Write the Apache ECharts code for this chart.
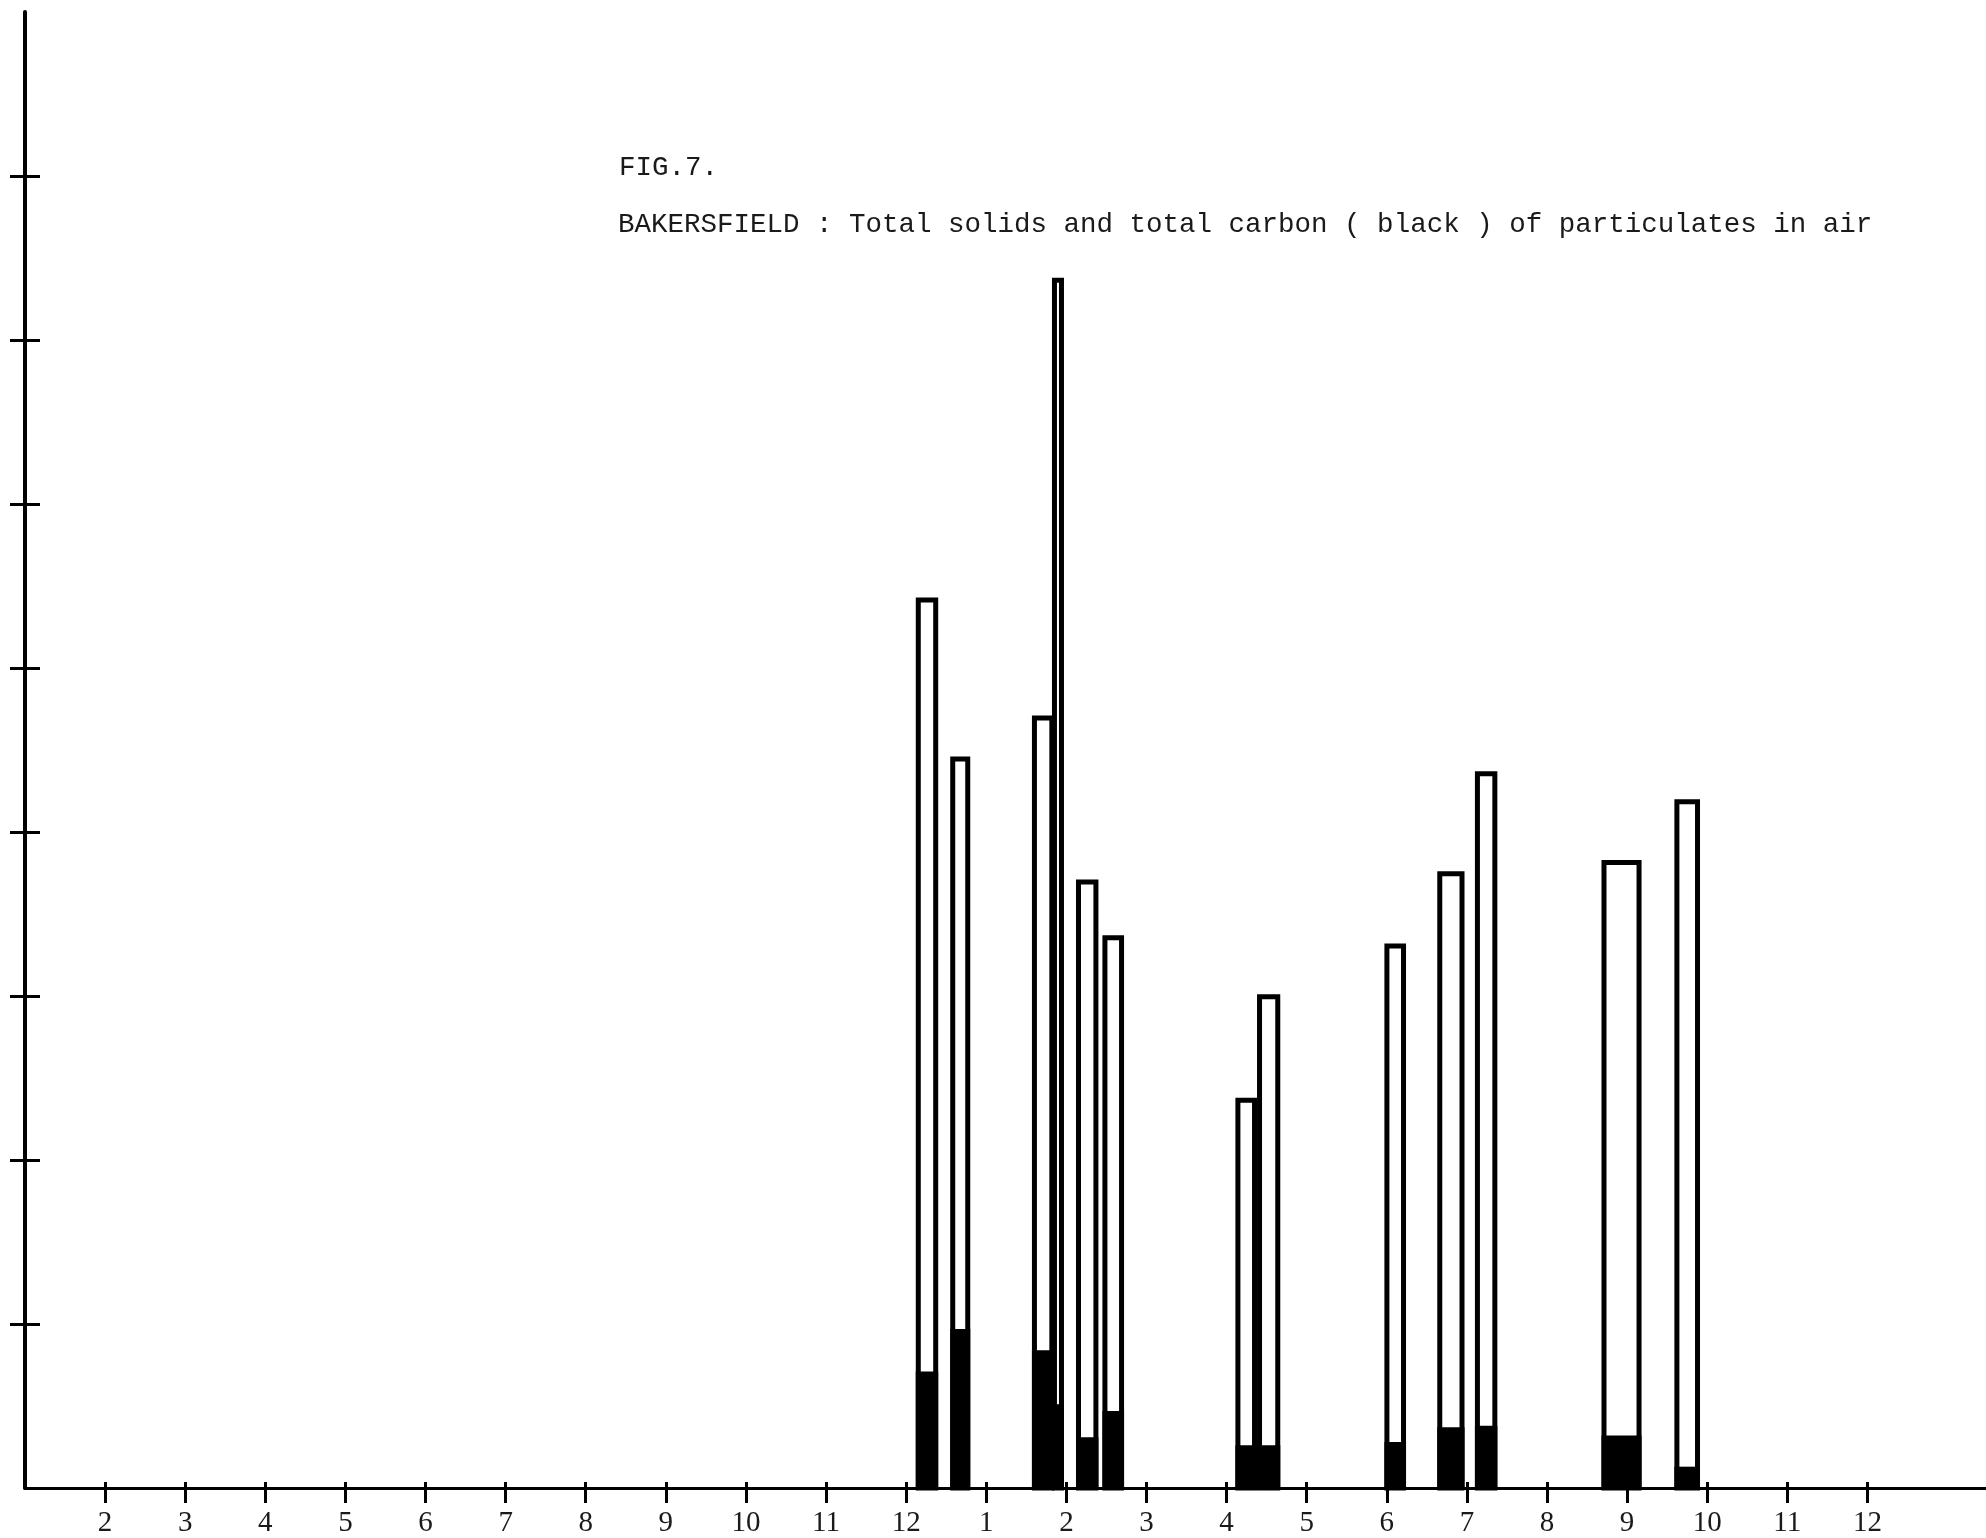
<!DOCTYPE html>
<html>
<head>
<meta charset="utf-8">
<script src="https://cdn.jsdelivr.net/npm/echarts@6/dist/echarts.min.js"></script>
<style>
html,body{margin:0;padding:0;background:#fff;}
#chart{width:1986px;height:1538px;}
</style>
</head>
<body>
<div id="chart"></div>
<script>
// Month tick labels (index 0 = first labelled tick)
const monthLabels = ['2','3','4','5','6','7','8','9','10','11','12','1','2','3','4','5','6','7','8','9','10','11','12'];
const monthTicks = monthLabels.map((_, i) => i);
const yTicks = [1, 2, 3, 4, 5, 6, 7, 8];

// Sampling periods (start / end in month-axis units)
const sampleStart = [10.12, 10.55, 11.57, 11.82, 12.12, 12.45, 14.11, 14.38, 15.97, 16.63, 17.10, 18.68, 19.59];
const sampleEnd   = [10.40, 10.80, 11.85, 11.97, 12.40, 12.72, 14.38, 14.67, 16.24, 16.97, 17.38, 19.18, 19.91];
// Total solids (bar height) and total carbon (black part), in y-tick units
const totalSolids = [5.43, 4.46, 4.71, 7.38, 3.71, 3.37, 2.38, 3.01, 3.32, 3.76, 4.37, 3.83, 4.20];
const totalCarbon = [0.71, 0.97, 0.84, 0.51, 0.31, 0.47, 0.26, 0.26, 0.28, 0.37, 0.38, 0.32, 0.13];

const data = sampleStart.map((s, i) => [s, sampleEnd[i], totalSolids[i], totalCarbon[i]]);

const MONO = '"Liberation Mono", "DejaVu Sans Mono", monospace';
const SERIF = '"Liberation Serif", "DejaVu Serif", serif';

const chart = echarts.init(document.getElementById('chart'), null, {renderer: 'canvas'});

chart.setOption({
  backgroundColor: '#ffffff',
  animation: false,
  title: [
    {text: 'FIG.7.', left: 619, top: 154, padding: 0,
     textStyle: {fontFamily: MONO, fontSize: 27.5, fontWeight: 'normal', color: '#1a1a1a'}},
    {text: 'BAKERSFIELD : Total solids and total carbon ( black ) of particulates in air',
     left: 618, top: 211, padding: 0,
     textStyle: {fontFamily: MONO, fontSize: 27.5, fontWeight: 'normal', color: '#1a1a1a'}}
  ],
  grid: {left: 25, right: 0, top: 12, bottom: 50, containLabel: false},
  xAxis: [
    {
      type: 'value', min: -1, max: 23.48, interval: 1,
      axisLine: {show: true, onZero: false, lineStyle: {color: '#000', width: 3}},
      axisTick: {show: true, customValues: monthTicks, length: 15, lineStyle: {color: '#000', width: 3}},
      axisLabel: {
        show: true, customValues: monthTicks, margin: 21,
        fontFamily: SERIF, fontSize: 29, color: '#1a1a1a',
        formatter: v => monthLabels[Math.round(v)] || ''
      },
      splitLine: {show: false}
    },
    {
      type: 'value', min: -1, max: 23.48, interval: 1, position: 'bottom', offset: 0,
      axisLine: {show: false, onZero: false},
      axisTick: {show: true, inside: true, customValues: monthTicks, length: 6, lineStyle: {color: '#000', width: 3}},
      axisLabel: {show: false},
      splitLine: {show: false}
    }
  ],
  yAxis: [
    {
      type: 'value', min: 0, max: 9, interval: 1, position: 'left',
      axisLine: {show: true, onZero: false, lineStyle: {color: '#000', width: 4}},
      axisTick: {show: true, customValues: yTicks, length: 15, lineStyle: {color: '#000', width: 3}},
      axisLabel: {show: false},
      splitLine: {show: false}
    },
    {
      type: 'value', min: 0, max: 9, interval: 1, position: 'left', offset: 0,
      axisLine: {show: false, onZero: false},
      axisTick: {show: true, inside: true, customValues: yTicks, length: 15, lineStyle: {color: '#000', width: 3}},
      axisLabel: {show: false},
      splitLine: {show: false}
    }
  ],
  series: [{
    type: 'custom',
    xAxisIndex: 0,
    yAxisIndex: 0,
    data: data,
    renderItem: function (params, api) {
      const base = api.coord([api.value(0), 0]);
      const top = api.coord([api.value(1), api.value(2)]);
      const carb = api.coord([api.value(0), api.value(3)]);
      const lw = 5;
      const x0 = base[0], x1 = top[0];
      return {
        type: 'group',
        children: [
          {
            type: 'rect',
            shape: {x: x0 + lw / 2, y: top[1] + lw / 2, width: x1 - x0 - lw, height: base[1] - top[1] - lw / 2},
            style: {fill: '#ffffff', stroke: '#000000', lineWidth: lw}
          },
          {
            type: 'rect',
            shape: {x: x0, y: carb[1], width: x1 - x0, height: base[1] - carb[1]},
            style: {fill: '#000000'}
          }
        ]
      };
    }
  }]
});
</script>
</body>
</html>
